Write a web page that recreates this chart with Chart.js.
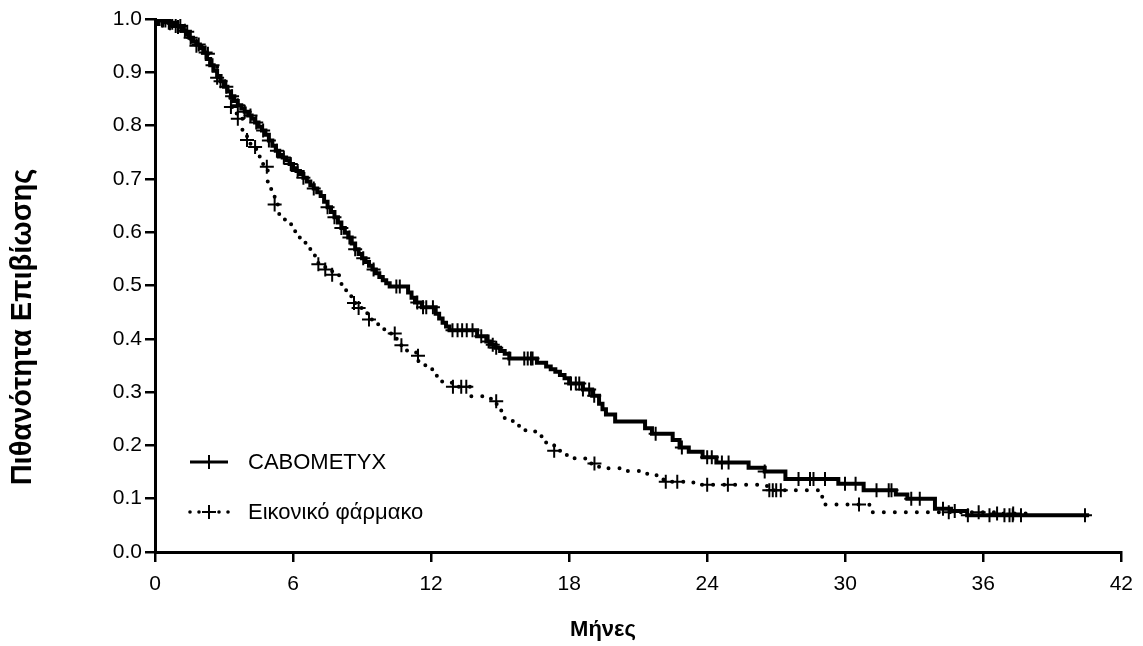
<!DOCTYPE html>
<html><head><meta charset="utf-8">
<script src="https://cdn.jsdelivr.net/npm/chart.js@4.4.1/dist/chart.umd.min.js"></script>
<style>html,body{margin:0;padding:0;background:#fff}#wrap{width:1143px;height:646px;position:relative}</style>
</head><body><div id="wrap"><canvas id="c"></canvas></div>
<script>
// ---- data ----
const seriesNames = ['CABOMETYX', 'Εικονικό φάρμακο'];
const xTitle = 'Μήνες';
const yTitle = 'Πιθανότητα Επιβίωσης';
const xTickValues = [0, 6, 12, 18, 24, 30, 36, 42];
const yTickValues = [0, 0.1, 0.2, 0.3, 0.4, 0.5, 0.6, 0.7, 0.8, 0.9, 1.0];

const caboTimes = [0,0.3,0.6,0.9,1.2,1.35,1.5,1.65,1.8,1.95,2.1,2.25,2.4,2.55,2.7,2.85,3.0,3.15,3.3,3.45,3.6,3.75,3.9,4.05,4.2,4.35,4.5,4.65,4.8,4.95,5.1,5.25,5.4,5.55,5.7,5.85,6.0,6.15,6.3,6.45,6.6,6.75,6.9,7.05,7.2,7.35,7.5,7.65,7.8,7.95,8.1,8.25,8.4,8.55,8.7,8.85,9.0,9.15,9.3,9.45,9.6,9.75,9.9,10.05,10.2,11.0,11.15,11.3,11.6,12.2,12.35,12.5,12.65,12.8,14.0,14.4,14.6,14.8,15.0,15.2,15.4,16.6,17.0,17.2,17.4,17.6,17.8,18.0,18.6,19.0,19.3,19.45,19.6,20.0,21.3,21.6,22.5,22.8,23.2,23.8,24.4,25.8,26.5,27.4,29.7,30.8,32.2,32.7,33.9,34.6,35.3,40.6];
const caboSurv = [1.0,0.997,0.993,0.987,0.978,0.972,0.965,0.958,0.952,0.945,0.937,0.925,0.913,0.903,0.893,0.883,0.873,0.864,0.855,0.846,0.838,0.832,0.826,0.819,0.813,0.806,0.798,0.791,0.783,0.772,0.762,0.753,0.745,0.74,0.735,0.728,0.72,0.715,0.709,0.702,0.695,0.688,0.682,0.675,0.668,0.657,0.647,0.638,0.628,0.618,0.608,0.599,0.59,0.579,0.568,0.559,0.551,0.544,0.537,0.53,0.523,0.516,0.51,0.504,0.498,0.487,0.477,0.468,0.459,0.447,0.438,0.43,0.423,0.416,0.405,0.395,0.389,0.383,0.377,0.372,0.363,0.355,0.348,0.343,0.338,0.332,0.326,0.316,0.305,0.293,0.278,0.268,0.258,0.245,0.232,0.222,0.21,0.196,0.188,0.178,0.168,0.158,0.151,0.137,0.128,0.116,0.108,0.1,0.081,0.077,0.069,0.069];
const caboCensored = [0.1,0.2,0.3,0.45,0.6,0.75,0.9,1.1,1.3,1.55,1.9,2.2,2.5,2.85,3.1,3.35,3.6,3.9,4.15,4.4,4.7,4.95,5.3,5.6,5.9,6.2,6.45,6.9,7.5,7.8,8.1,8.45,8.7,9.05,9.5,10.49,10.64,11.4,11.65,11.79,12.08,12.93,13.15,13.35,13.55,13.8,14.18,14.5,14.68,14.83,15.4,16.05,16.2,16.34,16.41,18.08,18.29,18.44,18.6,18.87,19.09,21.76,22.9,24.0,24.2,24.64,24.93,26.5,27.97,28.47,28.62,29.12,29.99,30.45,31.36,31.89,32.01,32.87,33.24,34.25,34.76,35.33,36.27,36.92,37.14,37.28,37.64,40.42];

const placeboTimes = [0,0.3,0.6,0.9,1.2,1.5,1.8,2.1,2.4,2.7,3.0,3.15,3.3,3.55,3.8,4.0,4.15,4.4,4.55,4.7,4.9,5.05,5.2,5.4,5.55,5.7,5.95,6.1,6.4,6.75,6.95,7.1,7.4,7.7,8.0,8.2,8.35,8.6,8.85,9.2,9.3,9.5,9.7,9.95,10.2,10.45,10.7,10.95,11.35,11.45,11.75,12.05,12.25,12.45,12.9,13.75,14.6,14.85,15.05,15.2,15.55,16.1,16.6,16.8,17.0,17.35,17.9,18.7,19.3,20.3,21.2,21.8,22.1,23.4,26.6,29.0,31.05,36.5,37.9];
const placeboSurv = [1.0,0.997,0.992,0.985,0.976,0.963,0.95,0.935,0.912,0.89,0.868,0.852,0.835,0.813,0.792,0.773,0.76,0.745,0.735,0.723,0.69,0.673,0.652,0.633,0.624,0.615,0.602,0.59,0.58,0.568,0.555,0.54,0.53,0.52,0.503,0.491,0.48,0.467,0.458,0.448,0.436,0.43,0.425,0.418,0.41,0.4,0.388,0.378,0.368,0.358,0.35,0.34,0.33,0.32,0.31,0.292,0.283,0.266,0.257,0.248,0.237,0.226,0.218,0.209,0.2,0.19,0.176,0.166,0.157,0.152,0.147,0.14,0.132,0.126,0.116,0.089,0.0745,0.072,0.072];
const placeboCensored = [0.15,0.35,0.65,1.0,1.4,1.8,2.3,2.7,3.3,3.6,4.0,4.35,4.86,5.2,7.1,7.4,7.7,8.65,8.85,9.3,10.42,10.71,11.43,12.95,13.31,13.53,14.83,17.35,19.1,22.2,22.7,24.0,24.9,26.7,26.85,27.0,27.2,30.6,34.5,35.8,36.6,37.3];

// ---- helpers ----
function curvePoints(times, surv) { return times.map((t, i) => ({ x: t, y: surv[i] })); }
function survivalAt(times, surv, t) {
  let s = surv[0];
  for (let i = 0; i < times.length; i++) { if (times[i] <= t) s = surv[i]; else break; }
  return s;
}
function censorPoints(cens, times, surv) { return cens.map(t => ({ x: t, y: survivalAt(times, surv, t) })); }

const FONT = "'Liberation Sans', Arial, sans-serif";
Chart.defaults.font.family = FONT;
Chart.defaults.color = '#000';

const annotationsPlugin = {
  id: 'kmLegendTitles',
  afterDraw(chart) {
    const ctx = chart.ctx;
    const a = chart.chartArea;
    const x0 = a.left + 35, x1 = a.left + 73, xc = a.left + 54, tx = a.left + 93;
    const y1 = a.top + 443, y2 = a.top + 493;
    ctx.save();
    ctx.strokeStyle = '#000'; ctx.fillStyle = '#000';
    // CABOMETYX sample
    ctx.lineWidth = 3;
    ctx.beginPath(); ctx.moveTo(x0, y1); ctx.lineTo(x1, y1); ctx.stroke();
    ctx.lineWidth = 2;
    ctx.beginPath(); ctx.moveTo(xc, y1 - 7); ctx.lineTo(xc, y1 + 7); ctx.stroke();
    // placebo sample
    [x0, x0 + 9, x1 - 9, x1].forEach(x => { ctx.beginPath(); ctx.arc(x, y2, 1.8, 0, Math.PI * 2); ctx.fill(); });
    ctx.beginPath(); ctx.moveTo(xc - 7, y2); ctx.lineTo(xc + 7, y2); ctx.moveTo(xc, y2 - 7); ctx.lineTo(xc, y2 + 7); ctx.stroke();
    ctx.font = "22px " + FONT;
    ctx.textBaseline = 'middle'; ctx.textAlign = 'left';
    ctx.fillText(seriesNames[0], tx, y1 + 1);
    ctx.fillText(seriesNames[1], tx, y2 + 1);
    // axis titles
    ctx.textAlign = 'center';
    ctx.font = "bold 22px " + FONT;
    ctx.fillText(xTitle, 603, 630);
    ctx.translate(23, 327);
    ctx.rotate(-Math.PI / 2);
    ctx.font = "bold 29px " + FONT;
    ctx.fillText(yTitle, 0, 0);
    ctx.restore();
  }
};

new Chart(document.getElementById('c'), {
  type: 'line',
  data: {
    datasets: [
      { label: seriesNames[0], data: curvePoints(caboTimes, caboSurv), stepped: 'before',
        borderColor: '#000', borderWidth: 4, pointRadius: 0, fill: false, borderJoinStyle: 'miter', order: 2 },
      { label: seriesNames[0] + ' censored', type: 'scatter', data: censorPoints(caboCensored, caboTimes, caboSurv),
        pointStyle: 'cross', pointRadius: 7, borderWidth: 2, borderColor: '#000', backgroundColor: '#000', showLine: false, order: 1 },
      { label: seriesNames[1], data: curvePoints(placeboTimes, placeboSurv), stepped: 'before',
        borderColor: '#000', borderWidth: 4, borderDash: [0.01, 11], borderCapStyle: 'round', pointRadius: 0, fill: false, order: 4 },
      { label: seriesNames[1] + ' censored', type: 'scatter', data: censorPoints(placeboCensored, placeboTimes, placeboSurv),
        pointStyle: 'cross', pointRadius: 7, borderWidth: 2, borderColor: '#000', backgroundColor: '#000', showLine: false, order: 3 }
    ]
  },
  options: {
    responsive: true, maintainAspectRatio: false, animation: false,
    layout: { padding: { left: 0, right: 19, top: 19, bottom: 0 } },
    plugins: { legend: { display: false }, tooltip: { enabled: false } },
    scales: {
      x: {
        type: 'linear', min: 0, max: 42,
        afterBuildTicks: s => { s.ticks = xTickValues.map(v => ({ value: v })); },
        afterFit: s => { s.height = 94; },
        border: { display: true, color: '#000', width: 3 },
        grid: { drawOnChartArea: false, drawTicks: true, tickLength: 10, lineWidth: 2.5, color: '#000' },
        ticks: { font: { size: 21 }, padding: 10, color: '#000', maxRotation: 0 },
        title: { display: false }
      },
      y: {
        type: 'linear', min: 0, max: 1,
        afterBuildTicks: s => { s.ticks = yTickValues.map(v => ({ value: v })); },
        afterFit: s => { s.width = 155; },
        border: { display: true, color: '#000', width: 3 },
        grid: { drawOnChartArea: false, drawTicks: true, tickLength: 10, lineWidth: 2.5, color: '#000' },
        ticks: { font: { size: 21 }, padding: 3, color: '#000', callback: v => Number(v).toFixed(1) },
        title: { display: false }
      }
    }
  },
  plugins: [annotationsPlugin]
});
</script>
</body></html>
